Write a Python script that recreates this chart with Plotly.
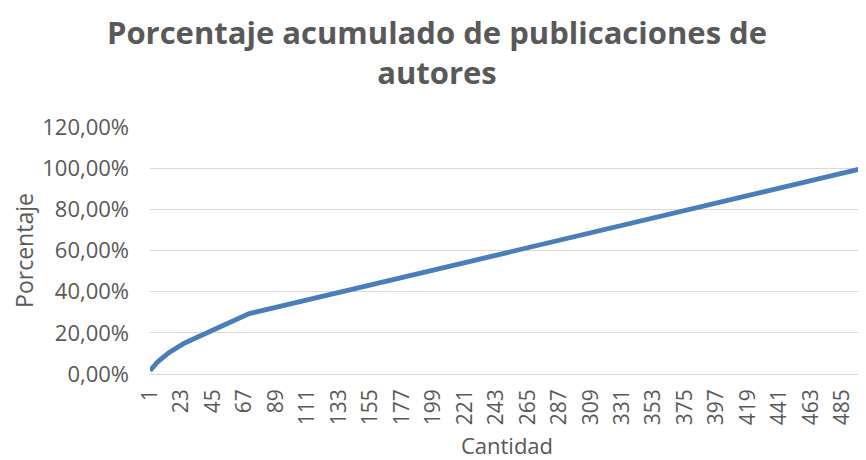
import numpy as np
import plotly.graph_objects as go

# tabla de frecuencias: publicaciones por autor y cuantos autores las tienen
pubs_por_autor = [10, 6, 5, 4, 3, 2, 1]
num_autores = [1, 1, 2, 6, 11, 46, 433]

tick_labels = [1, 23, 45, 67, 89, 111, 133, 155, 177, 199, 221, 243, 265,
               287, 309, 331, 353, 375, 397, 419, 441, 463, 485]

pubs = np.repeat(pubs_por_autor, num_autores)
cantidad = np.arange(1, len(pubs) + 1)
porcentaje = np.cumsum(pubs) / pubs.sum()

gray = '#595959'
font_name = 'Open Sans'

# la pagina tiene 8px de margen, el lienzo se reduce para caber en la ventana
fig = go.Figure()
fig.add_trace(go.Scatter(x=cantidad, y=porcentaje, mode='lines',
                         line=dict(color='#4a7ebb', width=4.8), hoverinfo='skip'))
fig.update_layout(
    width=858, height=452,
    margin=dict(l=142, r=2, t=119, b=86),
    plot_bgcolor='white', paper_bgcolor='white',
    separators=',.',
    showlegend=False,
    font=dict(family=font_name, color=gray, size=22),
    title=dict(text='Porcentaje acumulado de publicaciones de<br>autores',
               x=0.5, xanchor='center', y=0.92, yanchor='middle',
               font=dict(family=font_name, size=31, color=gray, weight='bold')),
)
fig.update_xaxes(
    range=[1, len(pubs)], tickmode='array', tickvals=tick_labels,
    ticktext=[str(t) for t in tick_labels], tickangle=-90,
    showgrid=False, zeroline=False, showline=False, automargin=False,
    ticklabelstandoff=10,
    tickfont=dict(size=21, color=gray),
    title=dict(text='Cantidad', font=dict(size=22, color=gray), standoff=16),
)
fig.update_yaxes(
    range=[0, 1.2], dtick=0.2, tickformat='.2%', automargin=False,
    gridcolor='#d9d9d9', gridwidth=1.3, zeroline=True, zerolinecolor='#d9d9d9',
    zerolinewidth=1.3, ticks='', ticklabelstandoff=20,
    tickfont=dict(size=22, color=gray),
    title=dict(text='Porcentaje', font=dict(size=23, color=gray), standoff=10),
)

fig.write_html("out.html")
